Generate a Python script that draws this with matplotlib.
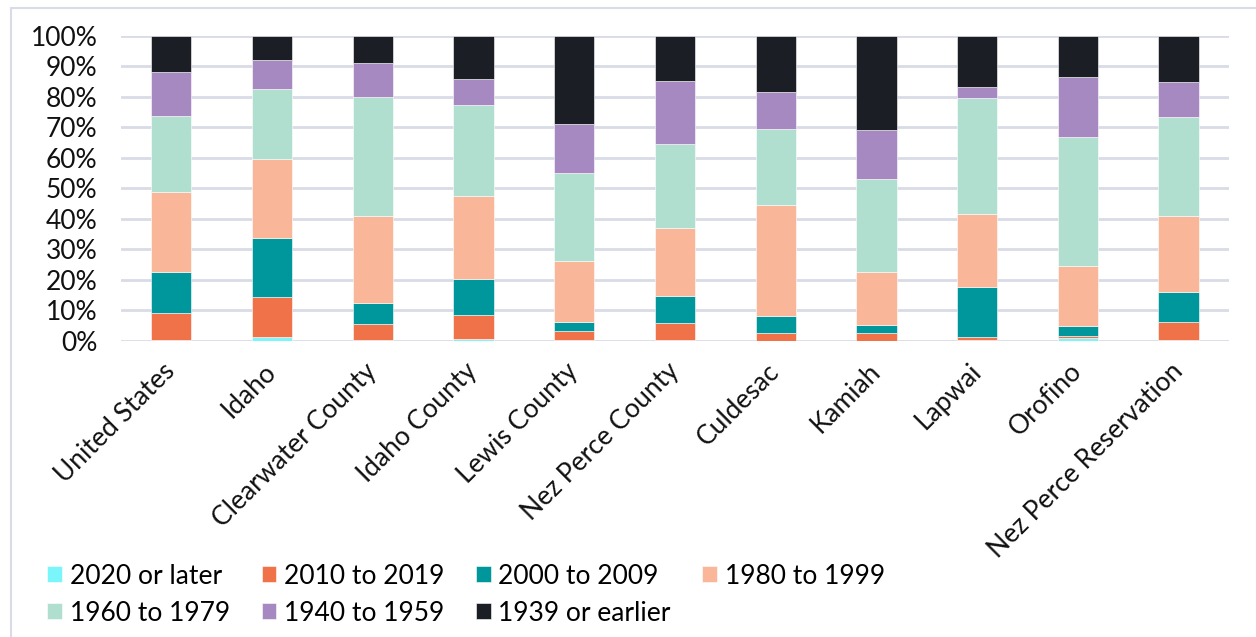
import matplotlib.pyplot as plt
from matplotlib.patches import Rectangle
import numpy as np

plt.rcParams['font.family'] = ['Lato', 'DejaVu Sans']

# ---- data: share of housing units by year built (%) ----
places = ["United States", "Idaho", "Clearwater County", "Idaho County",
          "Lewis County", "Nez Perce County", "Culdesac", "Kamiah",
          "Lapwai", "Orofino", "Nez Perce Reservation"]

built_2020_later = [0.4, 1.3, 0.3, 0.7, 0.2, 0.4, 0.0, 0.0, 0.2, 0.9, 0.3]
built_2010_2019 = [8.7, 13.2, 5.3, 7.8, 3.2, 5.5, 2.7, 2.5, 1.1, 0.8, 5.9]
built_2000_2009 = [13.5, 19.3, 7.0, 11.8, 2.8, 8.9, 5.5, 2.7, 16.4, 3.3, 9.9]
built_1980_1999 = [26.4, 26.0, 28.5, 27.3, 20.1, 22.2, 36.4, 17.5, 24.0, 19.7, 25.0]
built_1960_1979 = [24.8, 22.7, 38.8, 29.9, 28.8, 27.7, 24.9, 30.4, 38.1, 42.2, 32.3]
built_1940_1959 = [14.5, 9.5, 11.1, 8.4, 15.9, 20.6, 12.0, 16.1, 3.4, 19.8, 11.4]
built_1939_earlier = [11.7, 8.0, 9.0, 14.1, 29.0, 14.7, 18.5, 30.8, 16.8, 13.3, 15.2]

series_labels = ["2020 or later", "2010 to 2019", "2000 to 2009", "1980 to 1999",
                 "1960 to 1979", "1940 to 1959", "1939 or earlier"]
series_colors = ["#7AF6FB", "#F07249", "#00979C", "#F9B698",
                 "#B1DFCF", "#A689C0", "#1C1E26"]
series = [built_2020_later, built_2010_2019, built_2000_2009, built_1980_1999,
          built_1960_1979, built_1940_1959, built_1939_earlier]

# ---- figure ----
fig = plt.figure(figsize=(12.56, 6.37), dpi=100)
ax = fig.add_axes([0.0963, 0.4647, 0.8822, 0.4788])

# light chart-area border
fig.patches.append(Rectangle((11 / 1256, -0.05), 1.1, 1 - 8 / 637 + 0.05,
                             transform=fig.transFigure, fill=False,
                             edgecolor='#D9DCE6', linewidth=1.5))

x = np.arange(len(places))
bottom = np.zeros(len(places))
handles = []
for vals, lab, col in zip(series, series_labels, series_colors):
    v = np.array(vals)
    b = ax.bar(x, v, bottom=bottom, width=0.4, color=col, label=lab,
               edgecolor='white', linewidth=0.4, zorder=3)
    handles.append(b)
    bottom += v

ax.set_xlim(-0.5, len(places) - 0.5)
ax.set_ylim(0, 100)
ax.set_yticks(np.arange(0, 101, 10))
ax.set_yticklabels([f"{t}%" for t in range(0, 101, 10)])
ax.yaxis.grid(True, color='#D9DCE6', linewidth=2, zorder=0)
ax.set_axisbelow(True)
for s in ax.spines.values():
    s.set_visible(False)
ax.tick_params(axis='y', length=0, pad=17, labelsize=19, labelcolor='#111111')
ax.tick_params(axis='x', length=0, pad=19)

ax.set_xticks(x)
ax.set_xticklabels(places, rotation=45, ha='right', va='center',
                   rotation_mode='anchor', fontsize=19, color='#111111')

# legend laid out in rows of four
order = [0, 4, 1, 5, 2, 6, 3]
fig.legend([handles[i] for i in order], [series_labels[i] for i in order],
           loc='lower left', bbox_to_anchor=(0.024, -0.009), ncol=4,
           frameon=False, fontsize=19, handlelength=0.55, handleheight=0.55,
           handletextpad=0.3, columnspacing=1.2, labelspacing=0.45,
           borderaxespad=0.25)

fig.savefig("out.png", dpi=100, facecolor='white')
